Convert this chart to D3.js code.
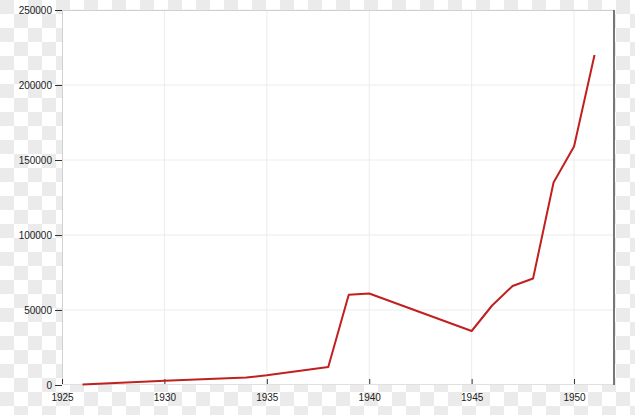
<!DOCTYPE html>
<html>
<head>
<meta charset="utf-8">
<script src="https://cdn.jsdelivr.net/npm/d3@7"></script>
<style>
  html, body { margin: 0; padding: 0; }
  svg { display: block; font-family: "Liberation Sans", Arial, sans-serif; }
  .tick text { font-size: 10px; fill: #222; }
</style>
</head>
<body>
<svg id="chart" width="635" height="415"></svg>
<script>
// values
const years  = [1926, 1930, 1934, 1935, 1938, 1939, 1940, 1945, 1946, 1947, 1948, 1949, 1950, 1951];
const values = [400, 2800, 5000, 6500, 12000, 60200, 61000, 36000, 53000, 66000, 71000, 135000, 159000, 220000];
const xTicks = [1925, 1930, 1935, 1940, 1945, 1950];
const yTicks = [0, 50000, 100000, 150000, 200000, 250000];

const W = 635, H = 415;
const m = { left: 62, right: 20, top: 10, bottom: 30 };

const svg = d3.select("#chart");

// transparent-looking checkerboard backdrop
const defs = svg.append("defs");
const pat = defs.append("pattern").attr("id", "checker")
  .attr("width", 28).attr("height", 28).attr("patternUnits", "userSpaceOnUse");
pat.append("rect").attr("width", 28).attr("height", 28).attr("fill", "#fff");
pat.append("rect").attr("width", 14).attr("height", 14).attr("fill", "#ebebeb");
pat.append("rect").attr("x", 14).attr("y", 14).attr("width", 14).attr("height", 14).attr("fill", "#ebebeb");
svg.append("rect").attr("width", W).attr("height", H).attr("fill", "url(#checker)");

const x = d3.scaleLinear().domain([1925, 1952]).range([m.left, W - m.right]);
const y = d3.scaleLinear().domain([0, 250000]).range([H - m.bottom, m.top]);

// plot area
svg.append("rect")
  .attr("x", x(1925)).attr("y", y(250000))
  .attr("width", x(1952) - x(1925)).attr("height", y(0) - y(250000))
  .attr("fill", "#fff");

// grid
svg.append("g").selectAll("line.gx").data(xTicks.slice(1)).join("line")
  .attr("x1", d => x(d)).attr("x2", d => x(d))
  .attr("y1", y(0)).attr("y2", y(250000))
  .attr("stroke", "#ececec").attr("stroke-width", 1);
svg.append("g").selectAll("line.gy").data(yTicks.slice(1)).join("line")
  .attr("x1", x(1925)).attr("x2", x(1952))
  .attr("y1", d => y(d)).attr("y2", d => y(d))
  .attr("stroke", "#ececec").attr("stroke-width", 1);

// frame: light top/left/bottom, darker right edge
svg.append("line").attr("x1", x(1925)).attr("x2", x(1952)).attr("y1", y(250000) + 0.5).attr("y2", y(250000) + 0.5)
  .attr("stroke", "#d0d0d0");
svg.append("line").attr("x1", x(1925) + 0.5).attr("x2", x(1925) + 0.5).attr("y1", y(250000)).attr("y2", y(0))
  .attr("stroke", "#d0d0d0");
svg.append("line").attr("x1", x(1925)).attr("x2", x(1952)).attr("y1", y(0) - 0.5).attr("y2", y(0) - 0.5)
  .attr("stroke", "#e0e0e0");
svg.append("line").attr("x1", x(1952) - 1).attr("x2", x(1952) - 1).attr("y1", y(250000)).attr("y2", y(0))
  .attr("stroke", "#777").attr("stroke-width", 2);

// axes
const yAxis = svg.append("g").attr("transform", `translate(${x(1925)},0)`)
  .call(d3.axisLeft(y).tickValues(yTicks).tickFormat(d3.format("d")).tickSize(7).tickPadding(3));
yAxis.select(".domain").remove();
yAxis.selectAll(".tick line").attr("stroke", "#333");

const xAxis = svg.append("g").attr("transform", `translate(0,${y(0)})`)
  .call(d3.axisBottom(x).tickValues(xTicks).tickFormat(d3.format("d")).tickSize(0).tickPadding(9));
xAxis.select(".domain").remove();
xAxis.selectAll(".tick").append("line")
  .attr("y1", -1).attr("y2", -6).attr("stroke", "#333");

// series
const pts = years.map((d, i) => [d, values[i]]);
svg.append("path").datum(pts)
  .attr("fill", "none").attr("stroke", "#c0201f").attr("stroke-width", 2)
  .attr("stroke-linejoin", "round")
  .attr("d", d3.line().x(d => x(d[0])).y(d => y(d[1])));
</script>
</body>
</html>
